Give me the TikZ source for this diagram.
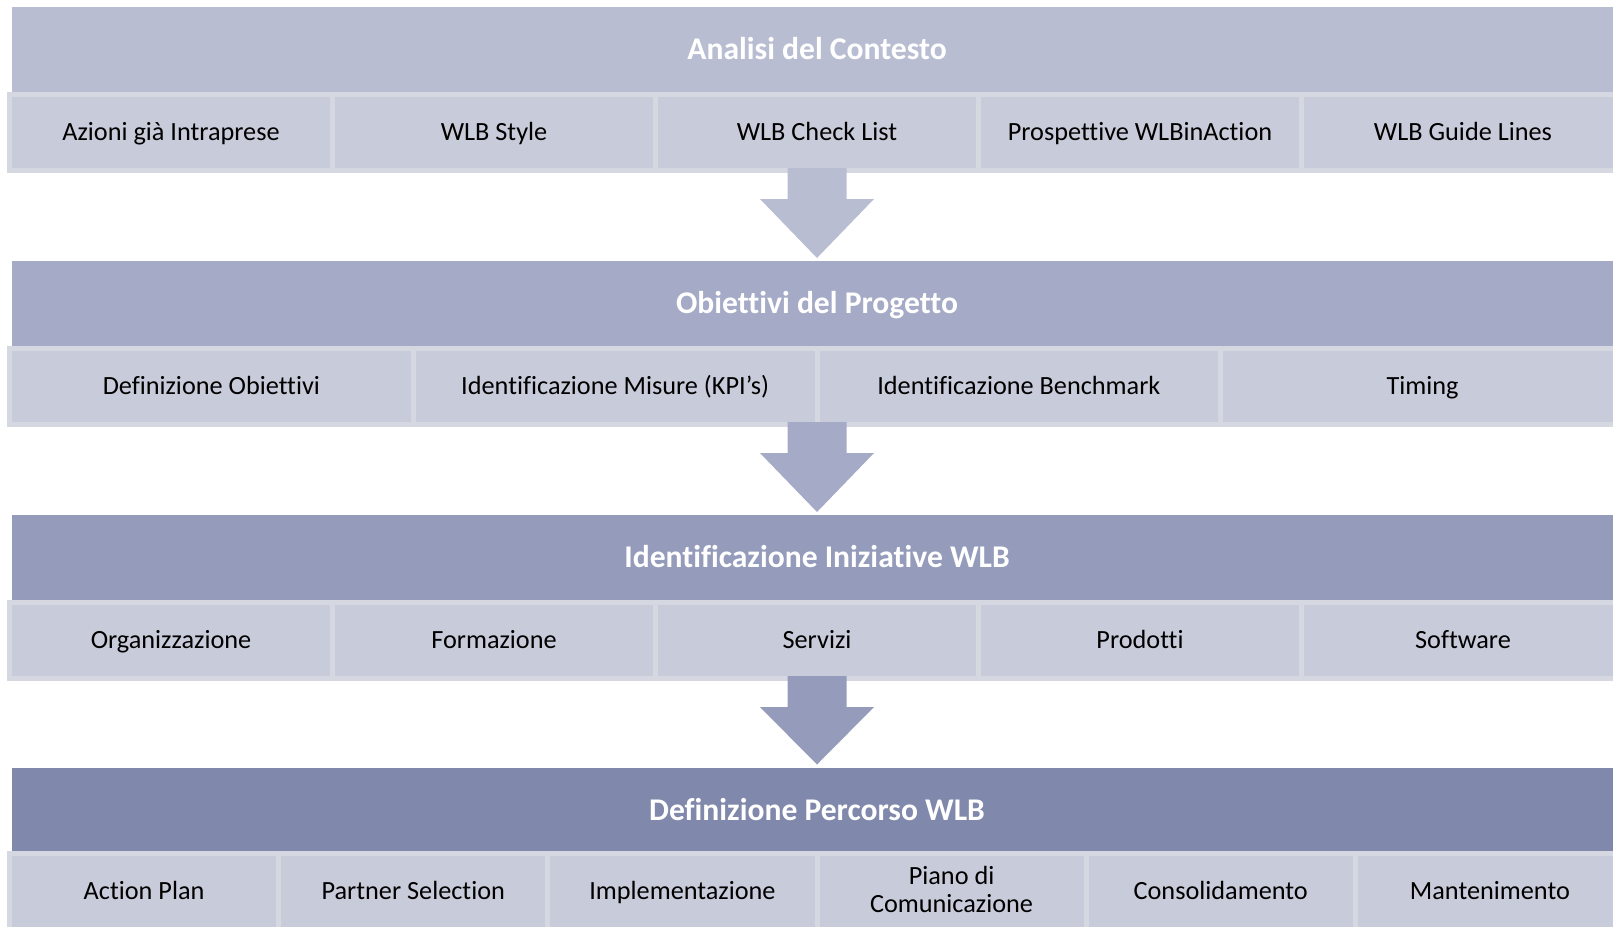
\documentclass[tikz,border=0pt]{standalone}
\usepackage{fontspec}
\setmainfont{Carlito}[Ligatures=CommonOff]
\usepackage{tikz}
\usetikzlibrary{calc}
\definecolor{headA}{RGB}{184, 189, 210}
\definecolor{headB}{RGB}{165, 170, 198}
\definecolor{headC}{RGB}{149, 156, 187}
\definecolor{headD}{RGB}{128, 136, 171}
\definecolor{cellfill}{RGB}{200, 203, 217}
\definecolor{cellrim}{RGB}{214, 216, 225}
\tikzset{
    header/.style={fill=#1, text=white, minimum width=1207.5pt, minimum height=63.75pt,
                   inner sep=0pt, outer sep=0pt, text height=17pt, text depth=1.7pt,
                   font=\fontsize{23.7}{28}\selectfont\bfseries},
    cell/.style={fill=cellfill, draw=cellrim, line width=3.75pt, minimum width=#1, minimum height=57pt,
                 inner sep=0pt, outer sep=0pt, text height=14pt, text depth=1.3pt,
                 align=center, font=\fontsize{19.7}{20.5}\selectfont},
}
% block arrow from the row under header #1 down to header #2
\newcommand{\flowarrow}[3]{%
    \fill[#3] ($(#1.south)+(-29.5, 76)$) -- ($(#1.south)+( 29.5, 76)$) -- ($(#1.south)+( 29.5,107)$)
           -- ($(#1.south)+( 57.0,107)$) -- ($(#2.north)+(0,-3)$)        -- ($(#1.south)+(-57.0,107)$)
           -- ($(#1.south)+(-29.5,107)$) -- cycle;}

\begin{document}
\begin{tikzpicture}[x=0.75pt, y=-0.75pt]
            \useasboundingbox (0,0) rectangle (1613,926);
            \clip             (0,0) rectangle (1613,926);
            % headers
            \node[header=headA] (contesto)   at (817.0, 49.5) {Analisi del Contesto};
            \node[header=headB] (obiettivi)  at (817.0,303.5) {Obiettivi del Progetto};
            \node[header=headC] (iniziative) at (817.0,557.5) {Identificazione Iniziative WLB};
            \node[header=headD] (percorso)   at (817.0,810.0) {Definizione Percorso WLB};
            % row 1
            \node[cell=242.25pt] (contesto-1)   at ( 171.00,132.5) {Azioni già Intraprese};
            \node[cell=242.25pt] (contesto-2)   at ( 494.00,132.5) {WLB Style};
            \node[cell=242.25pt] (contesto-3)   at ( 817.00,132.5) {WLB Check List};
            \node[cell=242.25pt] (contesto-4)   at (1140.00,132.5) {Prospettive WLBinAction};
            \node[cell=242.25pt] (contesto-5)   at (1463.00,132.5) {WLB Guide Lines};
            % row 2
            \node[cell=302.81pt] (obiettivi-1)  at ( 211.38,386.5) {Definizione Obiettivi};
            \node[cell=302.81pt] (obiettivi-2)  at ( 615.13,386.5) {Identificazione Misure (KPI’s)};
            \node[cell=302.81pt] (obiettivi-3)  at (1018.88,386.5) {Identificazione Benchmark};
            \node[cell=302.81pt] (obiettivi-4)  at (1422.63,386.5) {Timing};
            % row 3
            \node[cell=242.25pt] (iniziative-1) at ( 171.00,640.5) {Organizzazione};
            \node[cell=242.25pt] (iniziative-2) at ( 494.00,640.5) {Formazione};
            \node[cell=242.25pt] (iniziative-3) at ( 817.00,640.5) {Servizi};
            \node[cell=242.25pt] (iniziative-4) at (1140.00,640.5) {Prodotti};
            \node[cell=242.25pt] (iniziative-5) at (1463.00,640.5) {Software};
            % row 4
            \node[cell=201.88pt] (percorso-1)   at ( 144.08,891.5) {Action Plan};
            \node[cell=201.88pt] (percorso-2)   at ( 413.25,891.5) {Partner Selection};
            \node[cell=201.88pt] (percorso-3)   at ( 682.42,891.5) {Implementazione};
            \node[cell=201.88pt, text height={}, text depth={}, inner ysep=1.5pt]
                                 (percorso-4)   at ( 951.58,891.5) {Piano di\\Comunicazione\vphantom{p}};
            \node[cell=201.88pt] (percorso-5)   at (1220.75,891.5) {Consolidamento};
            \node[cell=201.88pt] (percorso-6)   at (1489.92,891.5) {Mantenimento};
            % arrows
            \flowarrow{contesto}{obiettivi}{headA}
            \flowarrow{obiettivi}{iniziative}{headB}
            \flowarrow{iniziative}{percorso}{headC}
        \end{tikzpicture}
\end{document}
